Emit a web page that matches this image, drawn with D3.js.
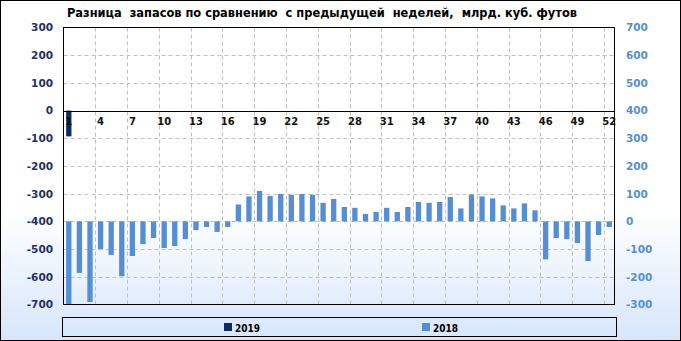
<!DOCTYPE html>
<html>
<head>
<meta charset="utf-8">
<script src="https://cdn.jsdelivr.net/npm/d3@7"></script>
<style>
  body { margin: 0; background: #fff; }
  svg { display: block; }
</style>
</head>
<body>
<svg width="681" height="341"></svg>
<script>
// недели
const weeks = d3.range(1, 53);
// 2019 - левая ось
const values2019 = [-93];
// 2018 - правая ось
const values2018 = [-300, -186, -291, -100, -121, -198, -125, -82, -60, -96,
    -89, -64, -31, -20, -38, -20, 61, 90, 110, 92,
    99, 96, 99, 96, 67, 81, 52, 49, 27, 34,
    49, 34, 52, 70, 67, 70, 88, 47, 97, 90,
    83, 58, 47, 65, 40, -137, -60, -64, -78, -143,
    -49, -20];
const leftTicks = d3.range(-700, 301, 100);
const rightTicks = d3.range(-300, 701, 100);
const weekLabels = d3.range(1, 53, 3);
const title = "Разница  запасов по сравнению  с предыдущей  неделей,  млрд. куб. футов";
const seriesNames = ["2019", "2018"];
const colors = ["#0f2a62", "#558ed5"];

const svg = d3.select("svg");
const width = +svg.attr("width");
const height = +svg.attr("height");

// фон с градиентом
const defs = svg.append("defs");
const grad = defs.append("linearGradient")
    .attr("id", "bg").attr("x1", 0).attr("y1", 0).attr("x2", 0).attr("y2", 1);
grad.append("stop").attr("offset", "0.62").attr("stop-color", "#ffffff");
grad.append("stop").attr("offset", "1").attr("stop-color", "#d6e6fb");

svg.append("rect")
    .attr("x", 0.5).attr("y", 0.5)
    .attr("width", width - 1).attr("height", height - 1)
    .attr("fill", "url(#bg)")
    .attr("stroke", "#000");

const plot = {left: 63.5, right: 614.5, top: 27.5, bottom: 304.5};

const x = d3.scaleBand()
    .domain(weeks)
    .range([plot.left, plot.right])
    .paddingInner(0.5)
    .paddingOuter(0.25);
const yL = d3.scaleLinear().domain([-700, 300]).range([plot.bottom, plot.top]);
const yR = d3.scaleLinear().domain([-300, 700]).range([plot.bottom, plot.top]);

// сетка горизонтальная
svg.append("g")
    .selectAll("line")
    .data(leftTicks.filter(d => d > -700 && d < 300 && d !== 0))
    .join("line")
    .attr("x1", plot.left).attr("x2", plot.right)
    .attr("y1", d => Math.round(yL(d)) + 0.5)
    .attr("y2", d => Math.round(yL(d)) + 0.5)
    .attr("stroke", "#c0c0c0")
    .attr("stroke-dasharray", "4,3");

// сетка вертикальная - границы каждых 3 недель
const gap = x.step() - x.bandwidth();
svg.append("g")
    .selectAll("line")
    .data(weeks.filter(d => d % 3 === 0 && d < 52))
    .join("line")
    .attr("x1", d => Math.round(x(d) + x.bandwidth() + gap / 2) + 0.5)
    .attr("x2", d => Math.round(x(d) + x.bandwidth() + gap / 2) + 0.5)
    .attr("y1", plot.top).attr("y2", plot.bottom)
    .attr("stroke", "#c0c0c0")
    .attr("stroke-dasharray", "4,3");

// столбцы 2018
svg.append("g")
    .selectAll("rect")
    .data(values2018)
    .join("rect")
    .attr("x", (d, i) => x(weeks[i]))
    .attr("width", x.bandwidth())
    .attr("y", d => yR(Math.max(0, d)))
    .attr("height", d => Math.abs(yR(d) - yR(0)))
    .attr("fill", colors[1]);

// столбцы 2019
svg.append("g")
    .selectAll("rect")
    .data(values2019)
    .join("rect")
    .attr("x", (d, i) => x(weeks[i]))
    .attr("width", x.bandwidth())
    .attr("y", d => yL(Math.max(0, d)))
    .attr("height", d => Math.abs(yL(d) - yL(0)))
    .attr("fill", colors[0]);

// рамка области графика
svg.append("rect")
    .attr("x", plot.left).attr("y", plot.top)
    .attr("width", plot.right - plot.left)
    .attr("height", plot.bottom - plot.top)
    .attr("fill", "none")
    .attr("stroke", "#000");

// ось категорий на нуле левой оси
const xAxis = svg.append("g")
    .attr("transform", `translate(0,${Math.round(yL(0)) + 0.5})`)
    .call(d3.axisBottom(x).tickValues(weekLabels).tickSize(0).tickPadding(6));
xAxis.select(".domain").attr("stroke", "#000").attr("d", `M${plot.left},0H${plot.right}`);
xAxis.selectAll("text")
    .attr("font-family", "DejaVu Sans")
    .attr("font-weight", "bold")
    .attr("font-size", "10px")
    .attr("fill", "#111");

// левая ось
const leftAxis = svg.append("g")
    .attr("transform", "translate(53,0)")
    .call(d3.axisLeft(yL).tickValues(leftTicks).tickSize(0).tickPadding(0).tickFormat(d3.format("d")));
leftAxis.select(".domain").remove();
leftAxis.selectAll("text")
    .attr("font-family", "DejaVu Sans")
    .attr("font-weight", "bold")
    .attr("font-size", "10.5px")
    .attr("fill", "#1a3264")
    .text(d => d < 0 ? "-" + Math.abs(d) : d);

// правая ось
const rightAxis = svg.append("g")
    .attr("transform", "translate(626,0)")
    .call(d3.axisRight(yR).tickValues(rightTicks).tickSize(0).tickPadding(0));
rightAxis.select(".domain").remove();
rightAxis.selectAll("text")
    .attr("font-family", "DejaVu Sans")
    .attr("font-weight", "bold")
    .attr("font-size", "10.5px")
    .attr("fill", colors[1])
    .text(d => d < 0 ? "-" + Math.abs(d) : d);

// заголовок
svg.append("text")
    .attr("x", 67)
    .attr("y", 17)
    .attr("font-family", "DejaVu Sans Condensed, DejaVu Sans")
    .attr("font-weight", "bold")
    .attr("font-size", "12px")
    .attr("fill", "#000")
    .attr("textLength", 510)
    .attr("lengthAdjust", "spacingAndGlyphs")
    .style("white-space", "pre")
    .text(title);

// легенда
svg.append("rect")
    .attr("x", 62.5).attr("y", 317.5)
    .attr("width", 554).attr("height", 19)
    .attr("fill", "none")
    .attr("stroke", "#000");
const legendX = [224, 422];
const legend = svg.append("g")
    .selectAll("g")
    .data(seriesNames)
    .join("g")
    .attr("transform", (d, i) => `translate(${legendX[i]},323)`);
legend.append("rect")
    .attr("width", 8).attr("height", 8)
    .attr("fill", (d, i) => colors[i]);
legend.append("text")
    .attr("x", 11).attr("y", 8.5)
    .attr("font-family", "DejaVu Sans Condensed, DejaVu Sans")
    .attr("font-weight", "bold")
    .attr("font-size", "10px")
    .attr("fill", "#000")
    .text(d => d);
</script>
</body>
</html>
